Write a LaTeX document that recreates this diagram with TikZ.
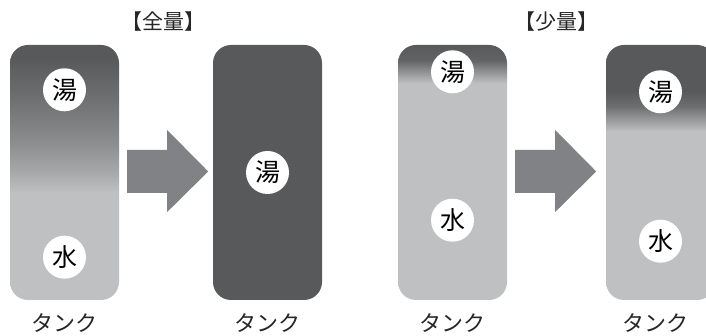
\documentclass[tikz,border=0pt]{standalone}
\usepackage{fontspec}
\newfontfamily\jp{Noto Sans CJK JP}
\usetikzlibrary{positioning,calc}
\definecolor{hotgrey}{HTML}{58595B}
\definecolor{coldgrey}{HTML}{BFC0C2}
\definecolor{arrowgrey}{HTML}{808285}
% vertical shadings: 25bp = tank bottom, 75bp = tank top
\pgfdeclareverticalshading{fullmix}{100bp}{color(0bp)=(coldgrey); color(46bp)=(coldgrey); color(50bp)=(coldgrey!77!hotgrey); color(56bp)=(coldgrey!50!hotgrey); color(65bp)=(coldgrey!20!hotgrey); color(72.5bp)=(hotgrey); color(100bp)=(hotgrey)}
\pgfdeclareverticalshading{smallbefore}{100bp}{color(0bp)=(coldgrey); color(67.5bp)=(coldgrey); color(70bp)=(coldgrey!50!hotgrey); color(72bp)=(coldgrey!10!hotgrey); color(75bp)=(hotgrey); color(100bp)=(hotgrey)}
\pgfdeclareverticalshading{smallafter}{100bp}{color(0bp)=(coldgrey); color(58bp)=(coldgrey); color(60.5bp)=(coldgrey!60!hotgrey); color(63bp)=(coldgrey!20!hotgrey); color(66bp)=(hotgrey); color(100bp)=(hotgrey)}

\begin{document}
\begin{tikzpicture}[x=1pt,y=1pt,
    tank/.style={rectangle,rounded corners=18pt,minimum width=109pt,minimum height=255pt,inner sep=0pt},
    disc/.style={circle,fill=white,minimum size=43pt,inner sep=0pt,font=\jp\fontsize{25}{25}\selectfont},
    caption/.style={inner sep=0pt,font=\jp\fontsize{22}{22}\selectfont,text=black!85}]
    \useasboundingbox (0,0) rectangle (706,336);
    % tanks
    \node[tank,shading=fullmix] (t1) at (64.5,163.5) {};
    \node[tank,fill=hotgrey] (t2) at (267.5,163.5) {};
    \node[tank,shading=smallbefore] (t3) at (452.5,163.5) {};
    \node[tank,shading=smallafter] (t4) at (660.5,163.5) {};
    % arrows
    \foreach \a in {t1,t3}{\fill[arrowgrey] ($(\a.east)+(8,22.5)$) -- ++(40,0) -- ++(0,20) -- ($(\a.east)+(89,1)$) -- ($(\a.east)+(48,-39.5)$) -- ++(0,19) -- ($(\a.east)+(8,-20.5)$) -- cycle;}
    % hot and cold water
    \node[disc] (t1hot) at ([yshift=-45pt]t1.north) {湯};
    \node[disc] (t1cold) at ([yshift=43pt]t1.south) {水};
    \node[disc] (t2hot) at (t2.center) {湯};
    \node[disc] (t3hot) at ([yshift=-27pt]t3.north) {湯};
    \node[disc] (t3cold) at ([yshift=80pt]t3.south) {水};
    \node[disc] (t4hot) at ([yshift=-47pt]t4.north) {湯};
    \node[disc] (t4cold) at ([yshift=59pt]t4.south) {水};
    % labels
    \foreach \t in {t1,t2,t3}{\node[caption] (\t lbl) at ([yshift=-23pt]\t.south) {タンク};}
    \node[caption] (t4lbl) at ([xshift=-5pt,yshift=-23pt]t4.south) {タンク};
    \node[caption,font=\jp\fontsize{21}{21}\selectfont] (fulltitle) at (163,314) {【全量】};
    \node[caption,font=\jp\fontsize{21}{21}\selectfont] (smalltitle) at (556,314) {【少量】};
\end{tikzpicture}
\end{document}
